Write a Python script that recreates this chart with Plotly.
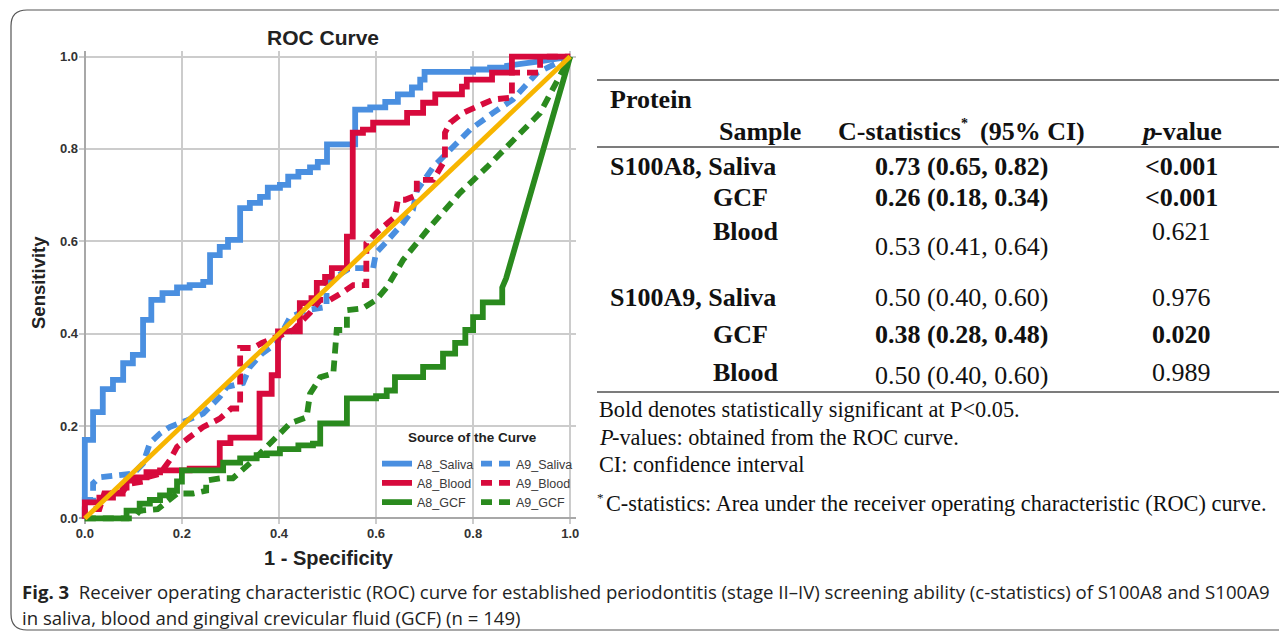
import plotly.graph_objects as go

# The page body adds an 8px offset; layout works in reference-image pixels.
OFF = 8
W, H = 1287 - OFF, 638 - OFF
L, R, T, B = 71, 711, 43, 114
PW = W - L - R
PH = H - T - B


def px(x):
    return (x - OFF - L) / PW


def py(y):
    return (H - B - (y - OFF)) / PH


# ---------------- ROC data (1 - specificity, sensitivity) ----------------
a8_saliva_x = [0, 0, 0.017, 0.017, 0.037, 0.037, 0.058, 0.058, 0.079, 0.079, 0.099, 0.099, 0.12, 0.12,
               0.137, 0.137, 0.16, 0.16, 0.19, 0.19, 0.216, 0.216, 0.244, 0.244, 0.258, 0.258, 0.278, 0.278,
               0.295, 0.295, 0.32, 0.32, 0.34, 0.34, 0.361, 0.361, 0.377, 0.377, 0.402, 0.402, 0.419, 0.419,
               0.44, 0.44, 0.464, 0.464, 0.48, 0.48, 0.499, 0.499, 0.557, 0.557, 0.588, 0.588, 0.619, 0.619,
               0.645, 0.645, 0.674, 0.674, 0.691, 0.691, 0.70, 0.70, 0.80, 0.80, 0.835, 0.835, 0.87, 0.87,
               0.94, 1.0]
a8_saliva_y = [0, 0.17, 0.17, 0.23, 0.23, 0.28, 0.28, 0.30, 0.30, 0.336, 0.336, 0.354, 0.354, 0.43,
               0.43, 0.473, 0.473, 0.488, 0.488, 0.50, 0.50, 0.505, 0.505, 0.512, 0.512, 0.57, 0.57, 0.588,
               0.588, 0.603, 0.603, 0.672, 0.672, 0.683, 0.683, 0.696, 0.696, 0.716, 0.716, 0.722, 0.722, 0.74,
               0.74, 0.75, 0.75, 0.76, 0.76, 0.772, 0.772, 0.81, 0.81, 0.885, 0.885, 0.89, 0.89, 0.902,
               0.902, 0.918, 0.918, 0.933, 0.933, 0.95, 0.95, 0.967, 0.967, 0.972, 0.972, 0.976, 0.976, 0.98,
               0.99, 1.0]

a9_saliva_x = [0, 0, 0.017, 0.017, 0.03, 0.1, 0.12, 0.134, 0.155, 0.175, 0.21, 0.244, 0.278, 0.293, 0.326,
               0.34, 0.365, 0.396, 0.40, 0.423, 0.457, 0.498, 0.498, 0.519, 0.546, 0.594, 0.60, 0.619, 0.639,
               0.656, 0.676, 0.684, 0.718, 0.759, 0.794, 0.841, 0.882, 0.932, 1.0]
a9_saliva_y = [0, 0.04, 0.04, 0.076, 0.089, 0.097, 0.119, 0.163, 0.184, 0.198, 0.212, 0.227, 0.263, 0.285, 0.293,
               0.328, 0.357, 0.38, 0.39, 0.436, 0.451, 0.458, 0.51, 0.523, 0.542, 0.542, 0.575, 0.596, 0.618,
               0.64, 0.668, 0.71, 0.761, 0.805, 0.842, 0.878, 0.907, 0.965, 1.0]

a8_blood_x = [0, 0, 0.03, 0.03, 0.058, 0.058, 0.078, 0.078, 0.086, 0.086, 0.10, 0.10, 0.127, 0.127, 0.155, 0.155,
              0.216, 0.216, 0.278, 0.278, 0.30, 0.30, 0.36, 0.36, 0.385, 0.385, 0.398, 0.398, 0.443, 0.443,
              0.467, 0.467, 0.478, 0.478, 0.495, 0.495, 0.509, 0.509, 0.54, 0.54, 0.552, 0.552, 0.573, 0.573,
              0.594, 0.594, 0.664, 0.664, 0.697, 0.697, 0.722, 0.722, 0.777, 0.777, 0.787, 0.787, 0.839, 0.839,
              0.88, 0.88, 1.0]
a8_blood_y = [0, 0.035, 0.035, 0.045, 0.045, 0.054, 0.054, 0.067, 0.067, 0.082, 0.082, 0.089, 0.089, 0.10, 0.10, 0.104,
              0.104, 0.108, 0.108, 0.163, 0.163, 0.175, 0.175, 0.27, 0.27, 0.31, 0.31, 0.405, 0.405, 0.466,
              0.466, 0.477, 0.477, 0.51, 0.51, 0.523, 0.523, 0.542, 0.542, 0.61, 0.61, 0.835, 0.835, 0.842,
              0.842, 0.857, 0.857, 0.878, 0.878, 0.90, 0.90, 0.918, 0.918, 0.935, 0.935, 0.95, 0.95, 0.965,
              0.965, 1.0, 1.0]

a9_blood_x = [0, 0, 0.03, 0.04, 0.066, 0.08, 0.09, 0.12, 0.13, 0.155, 0.175, 0.19, 0.216, 0.244, 0.278, 0.302,
              0.32, 0.32, 0.347, 0.365, 0.40, 0.43, 0.443, 0.464, 0.485, 0.505, 0.532, 0.553, 0.58, 0.58, 0.60,
              0.622, 0.639, 0.645, 0.66, 0.684, 0.684, 0.718, 0.742, 0.742, 0.753, 0.779, 0.841, 0.88, 0.88,
              0.938, 0.938, 1.0]
a9_blood_y = [0, 0.02, 0.02, 0.054, 0.054, 0.06, 0.075, 0.08, 0.09, 0.097, 0.126, 0.155, 0.176, 0.198, 0.216, 0.238,
              0.238, 0.369, 0.369, 0.38, 0.395, 0.408, 0.423, 0.445, 0.473, 0.473, 0.49, 0.505, 0.505, 0.596, 0.618,
              0.636, 0.653, 0.69, 0.69, 0.70, 0.733, 0.733, 0.776, 0.835, 0.857, 0.878, 0.907, 0.911, 0.965,
              0.965, 1.0, 1.0]

a8_gcf_x = [0, 0.086, 0.086, 0.113, 0.113, 0.134, 0.134, 0.155, 0.155, 0.175, 0.175, 0.19, 0.19, 0.20, 0.20,
            0.285, 0.285, 0.32, 0.32, 0.354, 0.354, 0.375, 0.375, 0.402, 0.402, 0.44, 0.44, 0.47, 0.47, 0.485,
            0.485, 0.54, 0.54, 0.60, 0.60, 0.622, 0.622, 0.639, 0.639, 0.697, 0.697, 0.738, 0.738, 0.763, 0.763,
            0.784, 0.784, 0.80, 0.80, 0.82, 0.82, 0.86, 0.86, 0.868, 1.0]
a8_gcf_y = [0, 0, 0.017, 0.017, 0.032, 0.032, 0.04, 0.04, 0.05, 0.05, 0.06, 0.06, 0.08, 0.08, 0.104,
            0.104, 0.121, 0.121, 0.13, 0.13, 0.137, 0.137, 0.141, 0.141, 0.15, 0.15, 0.158, 0.158, 0.162, 0.162,
            0.206, 0.206, 0.26, 0.26, 0.265, 0.265, 0.277, 0.277, 0.306, 0.306, 0.328, 0.328, 0.357, 0.357, 0.38,
            0.38, 0.408, 0.408, 0.436, 0.436, 0.468, 0.468, 0.50, 0.52, 1.0]

a9_gcf_x = [0, 0.10, 0.113, 0.15, 0.19, 0.223, 0.25, 0.25, 0.28, 0.305, 0.347, 0.381, 0.402, 0.423, 0.457, 0.464,
            0.478, 0.485, 0.512, 0.519, 0.54, 0.54, 0.573, 0.60, 0.622, 0.656, 0.711, 0.773, 0.829, 0.882, 0.938, 1.0]
a9_gcf_y = [0, 0, 0.017, 0.02, 0.054, 0.054, 0.06, 0.082, 0.087, 0.087, 0.126, 0.163, 0.184, 0.206, 0.219, 0.27,
            0.293, 0.306, 0.314, 0.408, 0.408, 0.451, 0.455, 0.473, 0.50, 0.56, 0.631, 0.705, 0.761, 0.82, 0.878, 1.0]

ref_x = [0, 1]
ref_y = [0, 1]

tick_vals = [0.0, 0.2, 0.4, 0.6, 0.8, 1.0]
tick_text = ["0.0", "0.2", "0.4", "0.6", "0.8", "1.0"]

# ---------------- table data ----------------
row_labels = ["S100A8, Saliva", "GCF", "Blood", "S100A9, Saliva", "GCF", "Blood"]
c_stats = ["0.73 (0.65, 0.82)", "0.26 (0.18, 0.34)", "0.53 (0.41, 0.64)",
           "0.50 (0.40, 0.60)", "0.38 (0.28, 0.48)", "0.50 (0.40, 0.60)"]
p_values = ["&lt;0.001", "&lt;0.001", "0.621", "0.976", "0.020", "0.989"]
significant = [True, True, False, False, True, False]
footnote_1 = "Bold denotes statistically significant at P&lt;0.05."
footnote_2 = "-values: obtained from the ROC curve."
footnote_3 = "CI: confidence interval"
footnote_4 = "C-statistics: Area under the receiver operating characteristic (ROC) curve."
caption_1 = ("<b>Fig. 3</b>  Receiver operating characteristic (ROC) curve for established periodontitis "
             "(stage II–IV) screening ability (c-statistics) of S100A8 and S100A9")
caption_2 = "in saliva, blood and gingival crevicular fluid (GCF) (n = 149)"

BLUE = "#4A8FE0"
RED = "#D70A3C"
GREEN = "#2A8A1E"
YELLOW = "#F7B500"
DASH = "11px,7px"
LW = 5.8

series = [
    ("A8_Saliva", a8_saliva_x, a8_saliva_y, BLUE, "solid", "legend"),
    ("A9_Saliva", a9_saliva_x, a9_saliva_y, BLUE, DASH, "legend2"),
    ("A8_Blood", a8_blood_x, a8_blood_y, RED, "solid", "legend"),
    ("A9_Blood", a9_blood_x, a9_blood_y, RED, DASH, "legend2"),
    ("A8_GCF", a8_gcf_x, a8_gcf_y, GREEN, "solid", "legend"),
    ("A9_GCF", a9_gcf_x, a9_gcf_y, GREEN, DASH, "legend2"),
]

fig = go.Figure()
for name, xs, ys, col, dash, lg in series:
    fig.add_trace(go.Scatter(x=xs, y=ys, mode="lines", name=name, legend=lg,
                             line=dict(color=col, width=LW, dash=dash)))
fig.add_trace(go.Scatter(x=ref_x, y=ref_y, mode="lines", showlegend=False,
                         line=dict(color=YELLOW, width=4.8)))

SANS = "Liberation Sans"
SERIF = "Liberation Serif"

axis_common = dict(range=[-0.012, 1.012], tickvals=tick_vals, ticktext=tick_text,
                   showgrid=True, gridcolor="#CCCCCC", gridwidth=1.7,
                   zeroline=True, zerolinecolor="#A8A8A8", zerolinewidth=2.2,
                   showline=False, ticks="", fixedrange=True,
                   tickfont=dict(family=SANS, size=13, color="#333333", weight="bold"))

legend_font = dict(family=SANS, size=12.5, color="#3a3a3a")
fig.update_layout(
    width=W, height=H,
    margin=dict(l=L, r=R, t=T, b=B, pad=0),
    paper_bgcolor="white", plot_bgcolor="white",
    xaxis=axis_common,
    yaxis=axis_common,
    legend=dict(x=px(377), y=py(449), xanchor="left", yanchor="top",
                bgcolor="rgba(0,0,0,0)", borderwidth=0, itemwidth=30,
                font=legend_font, tracegroupgap=0),
    legend2=dict(x=px(476), y=py(449), xanchor="left", yanchor="top",
                 bgcolor="rgba(0,0,0,0)", borderwidth=0, itemwidth=30,
                 font=legend_font, tracegroupgap=0),
)

shapes = []
# legend box (white, hides gridlines)
shapes.append(dict(type="rect", xref="paper", yref="paper", layer="between",
                   x0=px(380), x1=px(570.5), y0=py(516), y1=py(426),
                   fillcolor="white", line=dict(width=0)))
# table rules
for yy in [80, 147, 392]:
    shapes.append(dict(type="line", xref="paper", yref="paper",
                       x0=px(597), x1=px(1295), y0=py(yy), y1=py(yy),
                       line=dict(color="#7C7C7C", width=2)))
# rounded outer frame
xl, xr, yt, yb, rr = 11, 1300, 10, 630, 16
path = (f"M {px(xr)} {py(yt)} L {px(xl + rr)} {py(yt)} Q {px(xl)} {py(yt)} {px(xl)} {py(yt + rr)} "
        f"L {px(xl)} {py(yb - rr)} Q {px(xl)} {py(yb)} {px(xl + rr)} {py(yb)} L {px(xr)} {py(yb)}")
shapes.append(dict(type="path", xref="paper", yref="paper", path=path,
                   line=dict(color="#555555", width=1.2)))
fig.update_layout(shapes=shapes)

ann = []


def add_text(text, x, y, size, family, xanchor="left", bold=False, color="#111111", angle=0, italic=False):
    font = dict(family=family, size=size, color=color, weight="bold" if bold else "normal",
                style="italic" if italic else "normal")
    ann.append(dict(text=text, x=px(x), y=py(y), xref="paper", yref="paper",
                    xanchor=xanchor, yanchor="middle", showarrow=False, textangle=angle, font=font))


# chart titles
add_text("ROC Curve", 323, 37, 21, SANS, "center", True, "#222222")
add_text("1 - Specificity", 329, 558, 20, SANS, "center", True, "#222222")
add_text("Sensitivity", 38, 283, 18.5, SANS, "center", True, "#222222", angle=-90)
add_text("Source of the Curve", 472, 438, 13.5, SANS, "center", True, "#222222")

# table header
TS = 26
add_text("Protein", 608, 100, TS, SERIF, "left", True)
add_text("Sample", 717, 131, TS, SERIF, "left", True)
add_text("C-statistics", 836, 131, TS, SERIF, "left", True)
add_text("*", 964, 124, 14, SERIF, "center", True)
add_text("(95% CI)", 1087, 131, TS, SERIF, "right", True)
add_text("p", 1139, 131, TS, SERIF, "left", True, italic=True)
add_text("-value", 1152, 131, TS, SERIF, "left", True)

# table body
label_y = [166, 198, 231, 297, 334, 373]
cstat_y = [166, 198, 246, 297, 334, 375]
p_y = [166, 198, 231, 297, 334, 372]
for i, lab in enumerate(row_labels):
    lx = 608 if lab.startswith("S100") else 711
    add_text(lab, lx, label_y[i], TS, SERIF, "left", True)
    add_text(c_stats[i], 961, cstat_y[i], TS, SERIF, "center", significant[i])
    add_text(p_values[i], 1181, p_y[i], TS, SERIF, "center", significant[i])

# footnotes
FS = 22.3
add_text(footnote_1, 597, 410, FS, SERIF, "left")
add_text("P", 597, 437, FS, SERIF, "left", italic=True)
add_text(footnote_2, 610, 437, FS, SERIF, "left")
add_text(footnote_3, 597, 464, FS, SERIF, "left")
add_text("*", 600, 497, 13, SERIF, "center")
add_text(footnote_4, 604, 503, FS, SERIF, "left")

add_text(caption_1, 20, 591, 18.6, "Open Sans", "left", False, "#222222")
add_text(caption_2, 20, 617, 18.6, "Open Sans", "left", False, "#222222")

fig.update_layout(annotations=ann)

fig.write_html("out.html")
